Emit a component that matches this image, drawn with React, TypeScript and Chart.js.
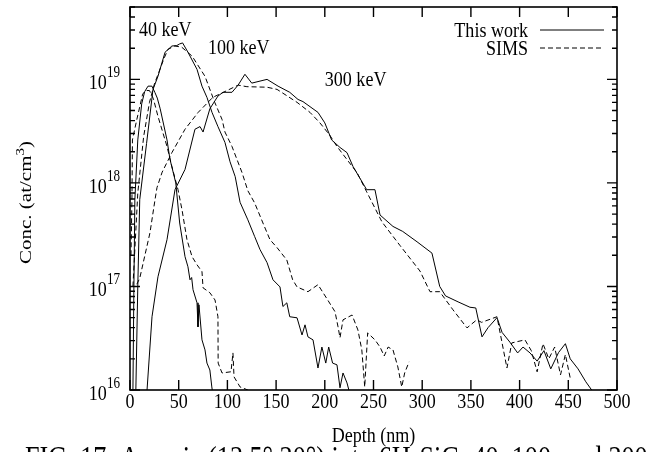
import React, { useEffect, useRef } from 'react';
import { Chart, registerables } from 'chart.js';

Chart.register(...registerables);

const FONT = '"Liberation Serif", "Times New Roman", serif';

// ---- data (depth in nm, concentration in at/cm^3) ----
const depth40Work = [3, 4, 5, 8, 12, 15, 18.5, 22.5, 25.5, 28, 31, 38, 41, 47, 51, 56.5, 59.5, 61.6, 63.3, 64.7, 68.8, 69.8, 70.8, 73.9, 77, 79, 82, 84, 86];
const conc40Work = [1e16, 1e17, 6.9e17, 2.6e18, 5.8e18, 7.6e18, 8.6e18, 8.6e18, 7.5e18, 6.6e18, 5.2e18, 2.6e18, 1.7e18, 1.0e18, 4.1e17, 1.94e17, 1.55e17, 1.16e17, 1.22e17, 9.3e16, 6.95e16, 4.07e16, 6.65e16, 3.05e16, 2.44e16, 1.82e16, 1.56e16, 1.07e16, 8e15];

const depth40Sims = [1, 2, 2.5, 7, 13, 16, 20, 24, 28.7, 38, 43, 49.3, 53.4, 58.5, 63.7, 68.8, 73.9, 75, 82, 87.3, 90.3, 90.5, 94.5, 103.7, 105.7, 106.8, 113, 121, 125];
const conc40Sims = [2e17, 6.9e17, 2.6e18, 4.1e18, 7.2e18, 7.8e18, 7.8e18, 6.5e18, 4.4e18, 2.25e18, 1.44e18, 8.6e17, 5.5e17, 2.83e17, 1.94e17, 1.62e17, 1.39e17, 9.7e16, 8.7e16, 7.4e16, 5.1e16, 1.82e16, 1.46e16, 1.5e16, 2.28e16, 1.34e16, 1.07e16, 1.0e16, 9e15];

const depth100Work = [6, 8, 10, 17, 23.6, 28.7, 36, 43, 48, 51, 54, 59.5, 68.8, 73.9, 79, 84.2, 90.3, 97.5, 102.7, 108, 113, 121, 128, 133.5, 140.7, 146.8, 154, 157, 161, 164, 171.5, 176.6, 179.7, 182.7, 187.9, 193, 197, 201, 204, 208, 212.5, 215.6, 218.7, 222.8, 226];
const conc100Work = [1e16, 1e17, 6.9e17, 2.4e18, 8.0e18, 1.07e19, 1.83e19, 2.1e19, 2.12e19, 2.2e19, 2.25e19, 1.83e19, 1.25e19, 8.6e18, 6.7e18, 4.8e18, 3.5e18, 2.46e18, 1.6e18, 1.15e18, 6.5e17, 4.4e17, 3.03e17, 2.27e17, 1.7e17, 1.16e17, 9.9e16, 6.4e16, 6.95e16, 5.1e16, 4.98e16, 3.4e16, 4.26e16, 3.26e16, 3.05e16, 1.63e16, 2.6e16, 1.82e16, 2.6e16, 1.82e16, 1.75e16, 1.05e16, 1.46e16, 1.17e16, 9e15];

const depth100Sims = [3, 8, 14, 20, 25, 30, 35, 39, 46, 53, 63.7, 77, 87, 94.5, 97.5, 104.7, 115, 121, 128, 136.5, 143.7, 151, 161, 167, 171.5, 182.7, 193, 203, 210.5, 213.6, 215.6, 218.7, 228, 234, 238, 241, 244, 251.5, 256.7, 261, 265, 270, 275, 279, 282, 286.5];
const conc100Sims = [1e17, 8e17, 2.8e18, 6e18, 9e18, 1.2e19, 1.6e19, 1.95e19, 2.1e19, 2.05e19, 1.68e19, 1.07e19, 6.0e18, 4.1e18, 3.1e18, 2.25e18, 1.26e18, 8.4e17, 6.4e17, 4.1e17, 2.83e17, 2.37e17, 1.8e17, 1.16e17, 9.9e16, 8.9e16, 1.04e17, 7.4e16, 5.7e16, 4.07e16, 3.2e16, 4.76e16, 5.3e16, 3.8e16, 2.44e16, 1.07e16, 3.56e16, 3.05e16, 2.6e16, 2.13e16, 2.6e16, 2.44e16, 1.67e16, 1.07e16, 1.46e16, 1.87e16];

const depth300Work = [17.5, 22.6, 28.7, 38, 46.2, 56.5, 66.7, 71.9, 75, 82, 90.3, 95.5, 104.7, 111, 118, 125, 140.7, 152, 164, 172.5, 177.6, 193, 200, 207, 215.6, 222.8, 229, 243, 251.5, 256.7, 270, 280, 294.7, 310, 318, 324, 336.8, 349, 355, 361.4, 367.6, 376.8, 382, 390, 398, 403.5, 410.7, 418, 425, 432, 440, 447, 452, 460, 468, 474, 480];
const conc300Work = [1e16, 5.1e16, 1.24e17, 2.83e17, 8.6e17, 1.35e18, 3.3e18, 3.5e18, 3.1e18, 5.2e18, 6.9e18, 7.5e18, 7.5e18, 8.8e18, 1.12e19, 9.2e18, 1.0e19, 8.6e18, 7.5e18, 6.4e18, 6.1e18, 4.8e18, 3.8e18, 2.6e18, 2.2e18, 1.96e18, 1.44e18, 8.6e17, 8.6e17, 4.9e17, 3.8e17, 3.4e17, 2.7e17, 2.1e17, 1.0e17, 8.1e16, 7.1e16, 6.3e16, 6.2e16, 3.26e16, 4.0e16, 5.0e16, 3.6e16, 2.9e16, 2.28e16, 2.6e16, 2.28e16, 1.9e16, 2.4e16, 1.6e16, 2.3e16, 2.8e16, 2.0e16, 1.6e16, 1.2e16, 1.0e16, 8e15];

const depth300Sims = [7, 10, 20.5, 25.7, 27.7, 33, 43, 56.5, 70, 85, 99.6, 111, 120, 140.7, 151, 171.5, 184.8, 195, 205, 212.5, 222.8, 233, 243, 258.7, 277, 297.7, 308, 318, 331.6, 346, 356, 361, 376.8, 387, 392, 405.5, 412, 418, 424, 430, 436, 442, 447, 452];
const conc300Sims = [1.05e17, 1.2e17, 3.3e17, 6.9e17, 9e17, 1.27e18, 1.96e18, 3.3e18, 4.8e18, 6.7e18, 7.8e18, 8.8e18, 8.5e18, 8.4e18, 8.0e18, 6.0e18, 4.8e18, 3.8e18, 2.9e18, 2.25e18, 1.68e18, 1.26e18, 8.2e17, 4.2e17, 2.5e17, 1.41e17, 8.9e16, 8.9e16, 5.95e16, 3.98e16, 4.76e16, 4.5e16, 5.1e16, 1.63e16, 2.85e16, 3.05e16, 2.4e16, 1.5e16, 2.8e16, 2.0e16, 2.6e16, 1.4e16, 2.2e16, 1.3e16];

const xTickValues = [0, 50, 100, 150, 200, 250, 300, 350, 400, 450, 500];
const yDecades = [16, 17, 18, 19];
const legendLabels = ['This work', 'SIMS'];
const energyLabels = ['40 keV', '100 keV', '300 keV'];
const energyLabelDepth = [9.2, 80, 200];
const energyLabelConc = [2.6e19, 1.75e19, 8.6e18];
const xTitle = 'Depth (nm)';
const yTitleMain = 'Conc. (at/cm';
const caption = 'FIG. 17: Arsenic (13.5\u00b0,30\u00b0) into 6H-SiC: 40, 100, and 300';

const SX = 0.82; // horizontal squeeze of the reference glyphs

function drawText(ctx: CanvasRenderingContext2D, s: string, x: number, y: number, size: number, align: CanvasTextAlign) {
  ctx.save();
  ctx.font = `${size}px ${FONT}`;
  ctx.translate(x, y);
  ctx.scale(SX, 1);
  ctx.textAlign = align;
  ctx.textBaseline = 'alphabetic';
  ctx.fillStyle = '#000';
  ctx.fillText(s, 0, 0);
  ctx.restore();
}
function textW(ctx: CanvasRenderingContext2D, s: string, size: number) {
  ctx.save();
  ctx.font = `${size}px ${FONT}`;
  const w = ctx.measureText(s).width * SX;
  ctx.restore();
  return w;
}

const decorPlugin = {
  id: 'decor',
  afterDatasetsDraw(chart: any) {
    const ctx: CanvasRenderingContext2D = chart.ctx;
    const xs = chart.scales.x;
    const ys = chart.scales.y;
    const { left, right, top, bottom } = chart.chartArea;
    ctx.save();
    ctx.strokeStyle = '#000';
    ctx.lineWidth = 1.6;
    ctx.strokeRect(left, top, right - left, bottom - top);
    ctx.lineWidth = 1.4;
    ctx.beginPath();
    xTickValues.forEach((v) => {
      const px = xs.getPixelForValue(v);
      ctx.moveTo(px, bottom); ctx.lineTo(px, bottom - 10);
      ctx.moveTo(px, top); ctx.lineTo(px, top + 10);
    });
    yDecades.forEach((d) => {
      for (let m = 1; m <= 9; m++) {
        const v = m * Math.pow(10, d);
        if (v > ys.max * 1.0001 || v < ys.min * 0.9999) continue;
        const py = ys.getPixelForValue(v);
        const len = m === 1 ? 10 : 5;
        ctx.moveTo(left, py); ctx.lineTo(left + len, py);
        ctx.moveTo(right, py); ctx.lineTo(right - len, py);
      }
    });
    ctx.stroke();

    xTickValues.forEach((v) => {
      drawText(ctx, String(v), xs.getPixelForValue(v), bottom + 18, 22, 'center');
    });
    yDecades.forEach((d) => {
      const py = ys.getPixelForValue(Math.pow(10, d));
      const sup = String(d);
      const wSup = textW(ctx, sup, 16);
      const xr = left - 10;
      drawText(ctx, '10', xr - wSup, py + 10, 22, 'right');
      drawText(ctx, sup, xr - wSup, py - 2, 16, 'left');
    });
    drawText(ctx, xTitle, (left + right) / 2, 442, 22, 'center');

    ctx.save();
    ctx.translate(31, (top + bottom) / 2 + 4);
    ctx.rotate(-Math.PI / 2);
    ctx.scale(1, SX);
    ctx.fillStyle = '#000';
    ctx.textBaseline = 'alphabetic';
    ctx.font = `21px ${FONT}`;
    const wMainT = ctx.measureText(yTitleMain).width;
    ctx.font = `15px ${FONT}`;
    const w3 = ctx.measureText('3').width;
    ctx.font = `21px ${FONT}`;
    const wClose = ctx.measureText(')').width;
    const total = wMainT + w3 + wClose;
    let cx = -total / 2;
    ctx.textAlign = 'left';
    ctx.fillText(yTitleMain, cx, 0); cx += wMainT;
    ctx.font = `15px ${FONT}`;
    ctx.fillText('3', cx, -9); cx += w3;
    ctx.font = `21px ${FONT}`;
    ctx.fillText(')', cx, 0);
    ctx.restore();

    // caption: natural spacing, sized to run from x=25 to the right edge, cut at the bottom
    const refSize = 30;
    const natural = textW(ctx, caption, refSize);
    const capSize = refSize * (623 / natural);
    drawText(ctx, caption, 25, 447 + 0.66 * capSize, capSize, 'left');

    energyLabels.forEach((s, i) => {
      drawText(ctx, s, xs.getPixelForValue(energyLabelDepth[i]), ys.getPixelForValue(energyLabelConc[i]), 22, 'left');
    });

    const legY = [30, 48];
    legendLabels.forEach((s, i) => {
      drawText(ctx, s, 528, legY[i] + 7, 22, 'right');
      ctx.save();
      ctx.lineWidth = 1;
      ctx.setLineDash(i === 0 ? [] : [5, 3]);
      ctx.beginPath();
      ctx.moveTo(540, legY[i]);
      ctx.lineTo(604, legY[i]);
      ctx.stroke();
      ctx.restore();
    });
    ctx.restore();
  },
};

export default function App() {
  const ref = useRef<HTMLCanvasElement>(null);
  useEffect(() => {
    const canvas = ref.current;
    if (!canvas) return;
    const mk = (xs: number[], ys: number[]) => xs.map((x, i) => ({ x, y: ys[i] }));
    const solid = { borderColor: '#000', borderWidth: 1, pointRadius: 0, tension: 0, clip: 0, fill: false, showLine: true };
    const dashed = { ...solid, borderDash: [5, 3] };
    const chart = new Chart(canvas, {
      type: 'line',
      data: {
        datasets: [
          { ...solid, label: '40 keV This work', data: mk(depth40Work, conc40Work) },
          { ...dashed, label: '40 keV SIMS', data: mk(depth40Sims, conc40Sims) },
          { ...solid, label: '100 keV This work', data: mk(depth100Work, conc100Work) },
          { ...dashed, label: '100 keV SIMS', data: mk(depth100Sims, conc100Sims) },
          { ...solid, label: '300 keV This work', data: mk(depth300Work, conc300Work) },
          { ...dashed, label: '300 keV SIMS', data: mk(depth300Sims, conc300Sims) },
        ] as any,
      },
      options: {
        animation: false,
        responsive: false,
        maintainAspectRatio: false,
        events: [],
        layout: { padding: { left: 130, top: 7, right: 33, bottom: 62 } },
        plugins: { legend: { display: false }, tooltip: { enabled: false }, title: { display: false } },
        scales: {
          x: { type: 'linear', min: 0, max: 500, display: false },
          y: { type: 'logarithmic', min: 1e16, max: 5e19, display: false },
        },
      } as any,
      plugins: [decorPlugin],
    });
    return () => chart.destroy();
  }, []);
  return (
    <div style={{ position: 'absolute', left: 0, top: 0, width: 650, height: 452, background: '#fff' }}>
      <canvas ref={ref} width={650} height={452} style={{ display: 'block' }} />
    </div>
  );
}
